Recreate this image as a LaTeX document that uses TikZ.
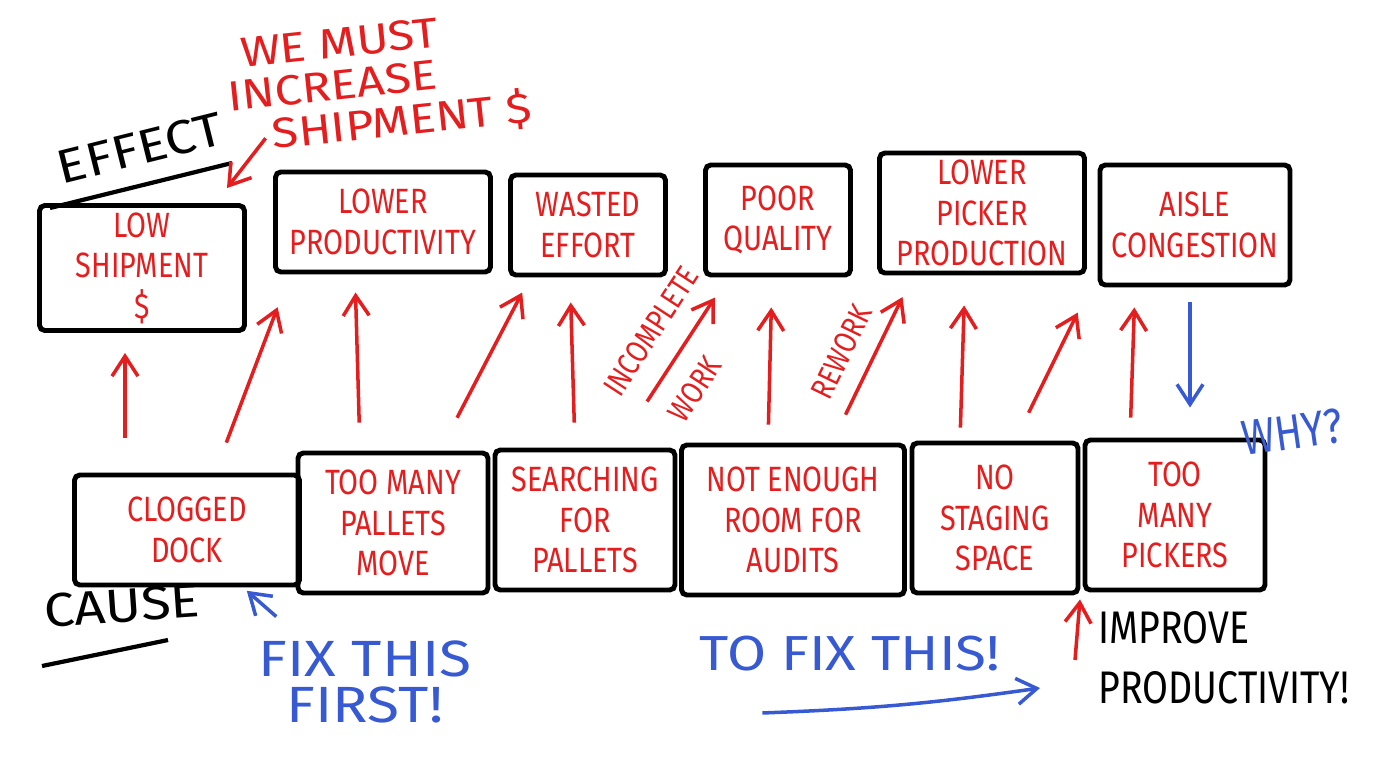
\documentclass[tikz,border=0pt]{standalone}
\usepackage{fontspec}
\setmainfont{Fira Sans}[FakeStretch=0.82]
\newfontfamily\handwide{Fira Sans}[FakeStretch=1.15]
\usetikzlibrary{calc,arrows.meta}
\definecolor{penred}{RGB}{228,30,30}
\definecolor{penblue}{RGB}{55,90,210}

\begin{document}
\begin{tikzpicture}[x=0.1mm,y=-0.1mm,
    box/.style={draw,line width=1.4pt,rounded corners=1.5pt,inner sep=2pt,text=penred,align=center,font=\fontsize{10}{11.5}\selectfont},
    effarrow/.style={draw=penred,line width=1pt,-{Straight Barb[length=2mm,width=2.6mm]}},
    bluearrow/.style={draw=penblue,line width=1pt,-{Straight Barb[length=2mm,width=2.6mm]}},
    slopetext/.style={text=penred,font=\fontsize{9}{10}\selectfont,inner sep=0pt}]
  \useasboundingbox (0,0) rectangle (1400,770);

  % effects
  \foreach \n/\x/\y/\w/\h/\t in {lowship/142/268/205/125/{LOW\\SHIPMENT\\\$},
      lowprod/383/222/215/100/{LOWER\\PRODUCTIVITY},
      wasted/588/225/155/100/{WASTED\\EFFORT},
      poorq/778/220/145/110/{POOR\\QUALITY},
      lowpick/982/213/205/115/{LOWER\\PICKER\\PRODUCTION},
      aisle/1195/225/190/120/{AISLE\\CONGESTION}}
    \node[box,minimum width=\w*0.1mm,minimum height=\h*0.1mm] (\n) at (\x,\y) {\t};

  % causes
  \foreach \n/\x/\y/\w/\h/\t in {dock/187/530/225/110/{CLOGGED\\DOCK},
      pallets/393/523/190/140/{TOO MANY\\PALLETS\\MOVE},
      search/585/520/180/140/{SEARCHING\\FOR\\PALLETS},
      audits/793/520/223/150/{NOT ENOUGH\\ROOM FOR\\AUDITS},
      staging/995/518/166/150/{NO\\STAGING\\SPACE},
      pickers/1175/515/180/150/{TOO\\MANY\\PICKERS}}
    \node[box,minimum width=\w*0.1mm,minimum height=\h*0.1mm] (\n) at (\x,\y) {\t};

  % cause -> effect
  \foreach \a/\da/\b/\db/\sa/\sb in {dock/-62/lowship/-17/3.5/2,
      dock/28/lowprod/-93/3.2/3.5, pallets/-33/lowprod/-28/2.8/1.8,
      pallets/47/wasted/-58/3.7/1.7, search/-10/wasted/-18/2.5/2.5,
      audits/-25/poorq/-6/1.8/3, staging/-35/lowpick/-17/1.3/3,
      staging/20/aisle/-105/3.1/2.8, pickers/-45/aisle/-60/2/2}
    \draw[effarrow,shorten <=\sa mm,shorten >=\sb mm] ($(\a.north)+(\da,0)$) -- ($(\b.south)+(\db,0)$);
  \draw[effarrow,shorten <=5.5mm,shorten >=2.4mm] ($(search.north)+(32,0)$) -- ($(poorq.south)+(-50,0)$)
    node[slopetext,sloped,pos=0.57,above=2.2mm] {INCOMPLETE}
    node[slopetext,sloped,pos=0.45,below=2mm] {WORK};
  \draw[effarrow,shorten <=3.1mm,shorten >=2.4mm] ($(audits.north)+(39,0)$) -- ($(lowpick.south)+(-69,0)$)
    node[slopetext,sloped,pos=0.46,above=1.8mm] {REWORK};
  \draw[bluearrow,shorten <=1.5mm,shorten >=3mm] ($(aisle.south)+(-5,0)$) -- ($(pickers.north)+(15,0)$);
  \node[text=penblue,font=\fontsize{14}{16}\selectfont,rotate=8] (why) at (1292,432) {WHY?};

  % headings
  \node[font=\handwide\fontsize{13.5}{16}\selectfont,rotate=14] (effect) at (140,148) {EFFECT};
  \draw[line width=1.2pt] (50,208) -- (232,163);
  \node[font=\handwide\fontsize{13.5}{16}\selectfont,rotate=4] (cause) at (122,606) {CAUSE};
  \draw[line width=1.2pt] (42,666) -- (168,640);

  % notes
  \node[text=penred,align=left,font=\handwide\fontsize{12}{12}\selectfont,rotate=6] (must) at (378,84)
    {\hspace*{1.7mm}WE MUST\\INCREASE\\\hspace*{4mm}SHIPMENT \$};
  \draw[effarrow] ($(must.south west)+(42,-35)$) -- ($(lowship.north east)+(-20,-15)$);
  \node[text=penblue,align=center,font=\handwide\fontsize{14.5}{13}\selectfont] (fixfirst) at (365,682) {FIX THIS\\FIRST!};
  \draw[bluearrow,shorten >=0.5mm] ($(fixfirst.north west)+(30,-12)$) -- ($(dock.south)+(56,0)$);
  \node[text=penblue,font=\handwide\fontsize{14}{16}\selectfont] (tofix) at (850,654) {TO FIX THIS!};
  \node[anchor=west,align=left,font=\fontsize{13}{17}\selectfont] (improve) at (1086,658) {IMPROVE\\PRODUCTIVITY!};
  \draw[bluearrow] ($(tofix.south west)+(75,29)$) to[bend right=3] ($(improve.west)+(-46,30)$);
  \draw[effarrow,shorten >=0.7mm] ($(improve.west)+(-11,2)$) -- ($(pickers.south west)+(-2,0)$);
\end{tikzpicture}
\end{document}
